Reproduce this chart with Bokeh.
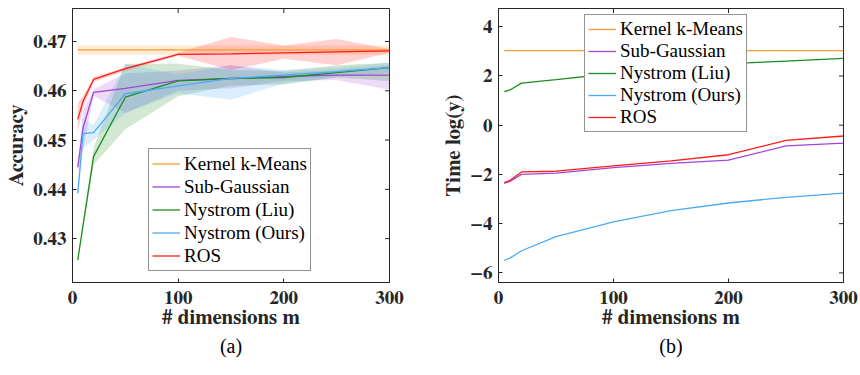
from math import pi
from bokeh.plotting import figure
from bokeh.layouts import row
from bokeh.models import Legend, LegendItem, Range1d, FixedTicker, Title
from bokeh.embed import file_html
from bokeh.resources import INLINE

# ---------------- data ----------------
m = [5, 10, 20, 50, 100, 150, 200, 250, 300]

kkm_acc = [0.4683, 0.4683, 0.4683, 0.4683, 0.4683, 0.4683, 0.4683, 0.4683, 0.4683]
kkm_lo = [0.4673, 0.4673, 0.4673, 0.4673, 0.4673, 0.4673, 0.4673, 0.4673, 0.4673]
kkm_hi = [0.4692, 0.4692, 0.4692, 0.4692, 0.4692, 0.4692, 0.4692, 0.4692, 0.4692]

sub_acc = [0.4445, 0.4525, 0.4597, 0.4605, 0.4621, 0.4625, 0.4629, 0.4632, 0.4632]
sub_lo = [0.4435, 0.4480, 0.4590, 0.4555, 0.4600, 0.4605, 0.4620, 0.4622, 0.4602]
sub_hi = [0.4455, 0.4560, 0.4603, 0.4635, 0.4641, 0.4652, 0.4637, 0.4642, 0.4652]

liu_acc = [0.4257, 0.4327, 0.4467, 0.4587, 0.4620, 0.4625, 0.4627, 0.4637, 0.4647]
liu_lo = [0.4252, 0.4320, 0.4450, 0.4522, 0.4589, 0.4610, 0.4613, 0.4627, 0.4620]
liu_hi = [0.4262, 0.4335, 0.4485, 0.4655, 0.4655, 0.4642, 0.4640, 0.4652, 0.4657]

ours_acc = [0.4392, 0.4513, 0.4515, 0.4594, 0.4610, 0.4625, 0.4632, 0.4639, 0.4647]
ours_lo = [0.4380, 0.4483, 0.4500, 0.4555, 0.4595, 0.4582, 0.4615, 0.4628, 0.4637]
ours_hi = [0.4405, 0.4543, 0.4530, 0.4655, 0.4633, 0.4652, 0.4642, 0.4648, 0.4657]

ros_acc = [0.4542, 0.4579, 0.4623, 0.4645, 0.4674, 0.4675, 0.4677, 0.4679, 0.4681]
ros_lo = [0.4515, 0.4565, 0.4618, 0.4640, 0.4671, 0.4642, 0.4665, 0.4652, 0.4677]
ros_hi = [0.4575, 0.4590, 0.4628, 0.4648, 0.4677, 0.4709, 0.4692, 0.4705, 0.4685]

kkm_t = [3.03, 3.03, 3.03, 3.03, 3.03, 3.03, 3.03, 3.03, 3.03]
sub_t = [-2.36, -2.28, -2.00, -1.95, -1.72, -1.55, -1.42, -0.84, -0.73]
liu_t = [1.36, 1.43, 1.71, 1.85, 2.10, 2.30, 2.50, 2.60, 2.71]
ours_t = [-5.49, -5.40, -5.10, -4.53, -3.93, -3.47, -3.16, -2.93, -2.76]
ros_t = [-2.33, -2.24, -1.90, -1.87, -1.65, -1.45, -1.20, -0.62, -0.44]

names = ["Kernel k-Means", "Sub-Gaussian", "Nystrom (Liu)", "Nystrom (Ours)", "ROS"]
colors = ["#FF9A2E", "#A046D8", "#1E8C1E", "#4DAAF5", "#FF1A1A"]

x_ticks = [0, 100, 200, 300]
acc_ticks = [0.43, 0.44, 0.45, 0.46, 0.47]
time_ticks = [-6, -4, -2, 0, 2, 4]
x_lim = (0, 300)
acc_lim = (0.4211, 0.4767)
time_lim = (-6.39, 4.74)

SERIF = "'Liberation Serif'"
SERIF_BOLD = "FreeSerif"
AX = "#262626"


def style_axes(p, xticks, yticks, xlim, ylim):
    p.xaxis.ticker = FixedTicker(ticks=xticks)
    p.yaxis.ticker = FixedTicker(ticks=yticks)
    for ax in list(p.xaxis) + list(p.yaxis):
        ax.major_tick_in = 4
        ax.major_tick_out = 0
        ax.minor_tick_line_color = None
        ax.axis_line_color = AX
        ax.major_tick_line_color = AX
        ax.major_label_text_font = SERIF_BOLD
        ax.major_label_text_font_style = "bold"
        ax.major_label_text_font_size = "19px"
        ax.major_label_text_color = AX
        ax.axis_label_text_font = SERIF_BOLD
        ax.axis_label_text_font_style = "bold"
        ax.axis_label_text_font_size = "21px"
        ax.axis_label_text_color = AX
    p.xaxis.major_label_standoff = 8
    p.xaxis.axis_label_standoff = 0
    p.yaxis.major_label_standoff = 6
    p.yaxis.axis_label_standoff = 3
    p.scatter(x=xticks, y=[ylim[1]] * len(xticks), marker="dash", angle=pi / 2, size=9,
              line_color=AX, line_width=1)
    p.scatter(x=[xlim[1]] * len(yticks), y=yticks, marker="dash", size=9,
              line_color=AX, line_width=1)
    p.xgrid.grid_line_color = None
    p.ygrid.grid_line_color = None
    p.outline_line_color = AX


def add_legend(p, renderers, loc, row_h):
    items = [LegendItem(label=n, renderers=[r]) for n, r in zip(names, renderers)]
    lg = Legend(items=items, location=loc, label_text_font=SERIF, label_text_font_size="19px",
                label_text_color="#000000", glyph_width=28, glyph_height=row_h, label_height=row_h,
                label_standoff=4, spacing=0, padding=3, margin=0,
                border_line_color=AX, border_line_width=1, background_fill_alpha=1.0)
    p.add_layout(lg)


def add_caption(p, txt):
    t = Title(text=txt, align="center", text_font=SERIF, text_font_size="20px",
              text_font_style="normal", text_color="#000000", standoff=5)
    p.add_layout(t, "below")


# ---------------- (a) ----------------
p1 = figure(width=440, height=375, output_backend="svg", toolbar_location=None,
            x_range=Range1d(*x_lim), y_range=Range1d(*acc_lim),
            min_border_left=72, min_border_right=51, min_border_top=4, min_border_bottom=93,
            x_axis_label="# dimensions m", y_axis_label="Accuracy")
style_axes(p1, x_ticks, acc_ticks, x_lim, acc_lim)

bands = [(kkm_lo, kkm_hi), (sub_lo, sub_hi), (liu_lo, liu_hi), (ours_lo, ours_hi), (ros_lo, ros_hi)]
for (lo, hi), c in zip(bands, colors):
    p1.varea(x=m, y1=lo, y2=hi, fill_color=c, fill_alpha=0.2)
r1 = []
for ys, c in zip([kkm_acc, sub_acc, liu_acc, ours_acc, ros_acc], colors):
    r1.append(p1.line(m, ys, line_color=c, line_width=1.3))
add_legend(p1, r1, (76, 11), 23)
add_caption(p1, "(a)")

# ---------------- (b) ----------------
p2 = figure(width=420, height=375, output_backend="svg", toolbar_location=None,
            x_range=Range1d(*x_lim), y_range=Range1d(*time_lim),
            min_border_left=57, min_border_right=17, min_border_top=8, min_border_bottom=90,
            x_axis_label="# dimensions m", y_axis_label="Time log(y)")
style_axes(p2, x_ticks, time_ticks, x_lim, time_lim)
r2 = []
for ys, c in zip([kkm_t, sub_t, liu_t, ours_t, ros_t], colors):
    r2.append(p2.line(m, ys, line_color=c, line_width=1.3))
add_legend(p2, r2, (86, 150), 22)
add_caption(p2, "(b)")

layout = row(p1, p2, spacing=0)
open("out.html", "w").write(file_html(layout, INLINE))
